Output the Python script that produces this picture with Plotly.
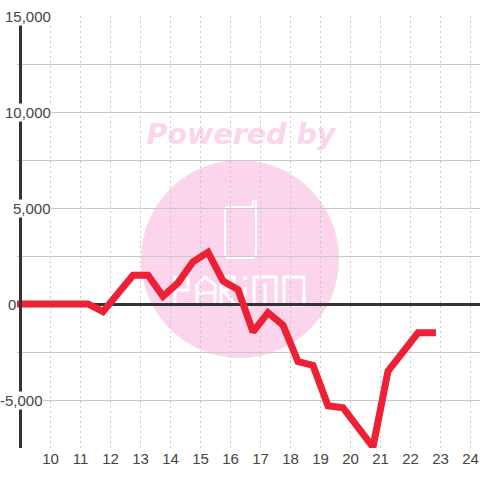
import plotly.graph_objects as go

hours = [8.88, 9.25, 9.75, 10.25, 10.75, 11.25, 11.75, 12.75, 13.25, 13.75, 14.25, 14.75, 15.25, 15.75, 16.25, 16.75, 17.25, 17.75, 18.25, 18.75, 19.25, 19.75, 20.75, 21.25, 22.25, 22.85]
values = [0, 0, 0, 0, 0, 0, -400, 1500, 1500, 400, 1100, 2200, 2700, 1200, 750, -1450, -450, -1100, -3000, -3200, -5300, -5400, -7450, -3500, -1500, -1500]
x_ticks = list(range(10, 25))
y_ticks = [15000, 10000, 5000, 0, -5000]
y_labels = ["15,000", "10,000", "5,000", "0", "-5,000"]
y_label_right_px = [52, 52, 52, 17, 44]

W = 480
L, R, T, B = 17, 0, 16, 32
PW = W - L - R
PH = W - T - B
PINK = "#fbd5ec"


def px(v):
    return (v - L) / PW


def py(v):
    return 1 - (v - T) / PH


def path(points, close=False):
    s = "M" + " L".join(f"{px(a):.5f},{py(b):.5f}" for a, b in points)
    return s + (" Z" if close else "")


def logo(points, close=False, width=3):
    return dict(type="path", xref="paper", yref="paper", layer="below", path=path(points, close),
                line=dict(color="white", width=width), fillcolor="rgba(0,0,0,0)")


shapes = [
    dict(type="circle", xref="paper", yref="paper", layer="below",
         x0=px(141), x1=px(339), y0=py(358), y1=py(160), fillcolor=PINK, line=dict(width=0)),
    dict(type="rect", xref="paper", yref="paper", layer="below",
         x0=px(120), x1=px(362), y0=py(148), y1=py(116), fillcolor="rgba(0,0,0,0)", line=dict(width=0),
         label=dict(text="<b><i>Powered by</i></b>", textposition="middle center",
                    font=dict(family="DejaVu Sans", size=28.5, color=PINK))),
    logo([(227, 207), (253, 207), (253, 201), (256, 201), (256, 255), (253, 258), (227, 258), (225, 255), (225, 209)], True, 2),
    logo([(175, 305), (175, 277), (188, 277), (188, 290), (177, 290)]),
    logo([(197, 305), (197, 285), (205, 277), (215, 285), (215, 305)]),
    logo([(197, 293), (215, 293)]),
    logo([(221, 305), (221, 277), (234, 277), (234, 290), (223, 290), (235, 305)]),
    logo([(245, 305), (245, 287)]),
    logo([(245, 276), (245, 280)], False, 4),
    logo([(254, 305), (254, 277), (276, 277), (276, 305)]),
    logo([(265, 283), (265, 305)]),
    logo([(284, 277), (304, 277), (304, 305), (284, 305)], True),
]

annotations = [
    dict(xref="paper", yref="y", x=px(r), y=v, text=t, showarrow=False, xanchor="right", yanchor="middle",
         bgcolor="white", borderpad=0,
         font=dict(family="Liberation Sans", size=15, color="#444444"))
    for v, t, r in zip(y_ticks, y_labels, y_label_right_px)
]

fig = go.Figure(go.Scatter(x=hours, y=values, mode="lines", line=dict(color="#ee2035", width=7), hoverinfo="skip"))

fig.update_layout(
    width=W, height=W, autosize=False,
    margin=dict(l=L, r=R, t=T, b=B), showlegend=False,
    paper_bgcolor="white", plot_bgcolor="white",
    shapes=shapes, annotations=annotations,
    xaxis=dict(range=[8.883, 24.317], tickvals=x_ticks, ticktext=[str(v) for v in x_ticks], ticks="",
               showgrid=True, gridcolor="#c8c8c8", griddash="2px,3px", gridwidth=1,
               zeroline=False, showline=False,
               tickfont=dict(family="Liberation Sans", size=15, color="#444444")),
    yaxis=dict(range=[-7500, 15000], dtick=2500, showticklabels=False, ticks="",
               showgrid=True, gridcolor="#c8c8c8", gridwidth=1,
               zeroline=True, zerolinecolor="#333333", zerolinewidth=3,
               showline=True, linecolor="#333333", linewidth=3,
               anchor="free", position=px(20)),
)

fig.write_html("out.html", config={"displayModeBar": False}, post_script="document.body.style.margin='0';")
